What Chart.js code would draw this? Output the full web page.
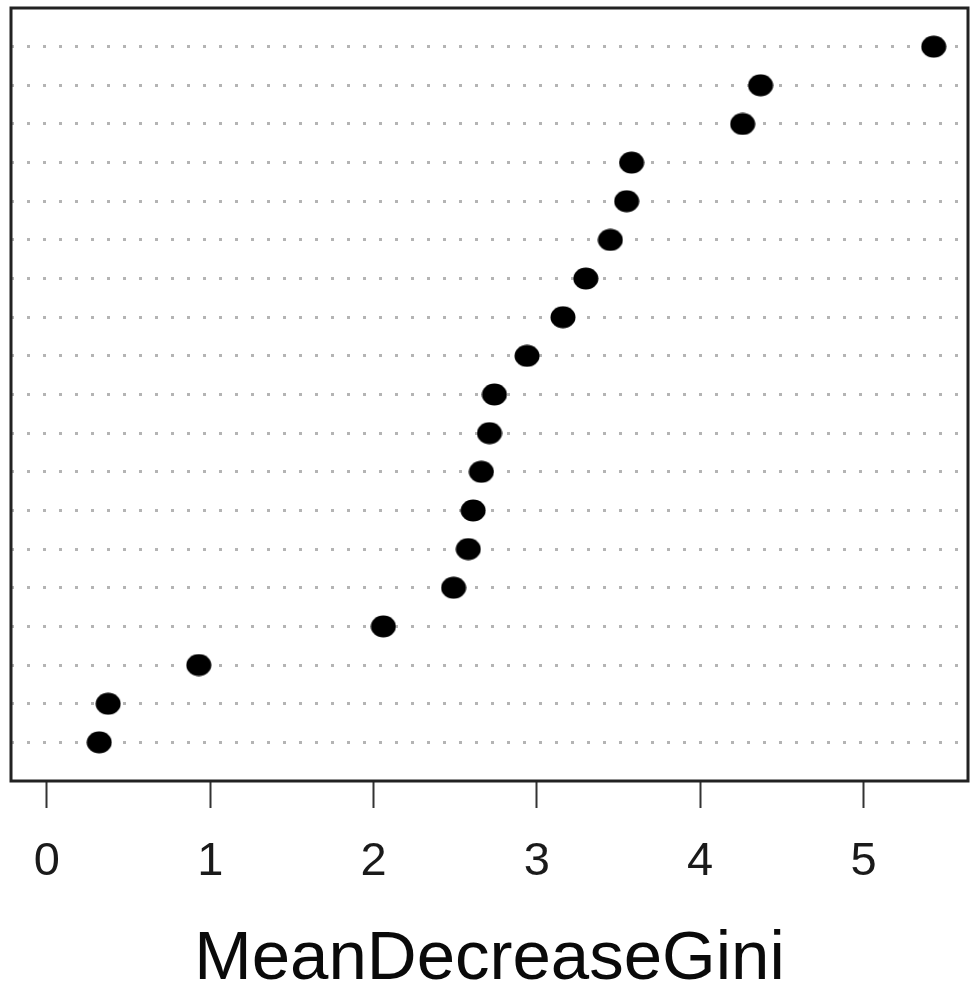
<!DOCTYPE html>
<html>
<head>
<meta charset="utf-8">
<script src="https://cdn.jsdelivr.net/npm/chart.js@4.4.1/dist/chart.umd.min.js"></script>
<style>
  html, body { margin: 0; padding: 0; background: #ffffff; }
  #wrap { width: 977px; height: 990px; }
</style>
</head>
<body>
<div id="wrap"><canvas id="c" width="977" height="990"></canvas></div>
<script>
// Row positions (top to bottom) of the dot chart
const rows = [1, 2, 3, 4, 5, 6, 7, 8, 9, 10, 11, 12, 13, 14, 15, 16, 17, 18, 19];
// MeanDecreaseGini values, top row first
const giniValues = [5.43, 4.37, 4.26, 3.58, 3.55, 3.45, 3.30, 3.16, 2.94, 2.74, 2.71, 2.66, 2.61, 2.58, 2.49, 2.06, 0.93, 0.375, 0.32];
// X-axis tick labels
const xTicks = [0, 1, 2, 3, 4, 5];
const xTitle = 'MeanDecreaseGini';

// Elliptical filled dot used as point style
const dot = document.createElement('canvas');
dot.width = 26; dot.height = 23;
(function () {
  const g = dot.getContext('2d');
  g.fillStyle = '#000';
  g.beginPath();
  g.ellipse(13, 11.5, 12.5, 11, 0, 0, Math.PI * 2);
  g.fill();
})();

const points = rows.map((r, i) => ({ x: giniValues[i], y: r }));

const boxPlugin = {
  id: 'box',
  afterDraw(chart) {
    const { ctx, chartArea: a } = chart;
    ctx.save();
    ctx.strokeStyle = '#222';
    ctx.lineWidth = 3;
    ctx.strokeRect(a.left, a.top, a.right - a.left, a.bottom - a.top);
    ctx.restore();
  }
};

new Chart(document.getElementById('c'), {
  type: 'scatter',
  data: {
    datasets: [{
      data: points,
      pointStyle: dot,
      backgroundColor: '#000',
      borderColor: '#000'
    }]
  },
  options: {
    responsive: false,
    animation: false,
    devicePixelRatio: 1,
    layout: { padding: { left: 11, right: 9, top: 8, bottom: 0 } },
    plugins: { legend: { display: false }, tooltip: { enabled: false } },
    scales: {
      x: {
        type: 'linear',
        min: -0.22,
        max: 5.64,
        afterBuildTicks(scale) { scale.ticks = xTicks.map(v => ({ value: v })); },
        afterFit(scale) { scale.height = 209; },
        border: { display: false },
        grid: {
          drawOnChartArea: false,
          drawTicks: true,
          tickLength: 27,
          tickWidth: 2,
          tickColor: '#333'
        },
        ticks: {
          padding: 26,
          color: '#1a1a1a',
          font: { family: 'Liberation Sans, Arial, sans-serif', size: 47 },
          maxRotation: 0
        },
        title: {
          display: true,
          text: xTitle,
          color: '#0a0a0a',
          padding: { top: 0, bottom: -4 },
          font: { family: 'Liberation Sans, Arial, sans-serif', size: 69, lineHeight: 1 }
        }
      },
      y: {
        type: 'linear',
        min: 0,
        max: 20,
        reverse: true,
        afterBuildTicks(scale) { scale.ticks = rows.map(v => ({ value: v })); },
        afterFit(scale) { scale.width = 0; },
        border: { display: false, dash: [3, 13], dashOffset: 0 },
        ticks: { display: false },
        grid: {
          drawTicks: false,
          color: '#b4b4b4',
          lineWidth: 3
        }
      }
    }
  },
  plugins: [boxPlugin]
});
</script>
</body>
</html>
